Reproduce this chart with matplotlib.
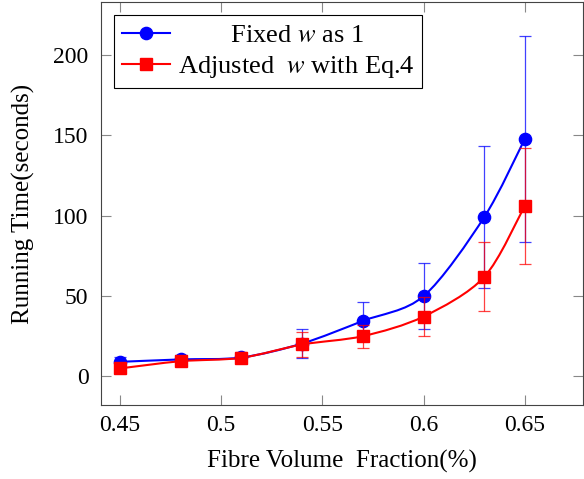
import numpy as np
import matplotlib.pyplot as plt
from matplotlib.path import Path
from matplotlib.patches import PathPatch

plt.rcParams["font.family"] = ["Liberation Serif", "DejaVu Serif"]
plt.rcParams["mathtext.fontset"] = "stix"

# data
frac = [0.45, 0.48, 0.51, 0.54, 0.57, 0.60, 0.63, 0.65]
fixed_w = [8.9, 10.4, 11.6, 20.3, 34.4, 49.8, 99.1, 147.7]
fixed_err = [3.0, 2.5, 3.0, 9.0, 11.5, 20.5, 44.0, 64.0]
adj_w = [4.8, 9.3, 11.4, 19.7, 24.9, 37.1, 61.8, 106.0]
adj_err = [2.5, 2.0, 3.5, 8.0, 7.2, 12.4, 21.5, 36.0]

xticks = [0.45, 0.5, 0.55, 0.6, 0.65]
xticklabels = ["0.45", "0.5", "0.55", "0.6", "0.65"]
yticks = [0, 50, 100, 150, 200]


def smooth_path(x, y, k=0.15):
    # cubic bezier through the points, like tikz "smooth"
    pts = np.column_stack([np.asarray(x, float), np.asarray(y, float)])
    n = len(pts)
    tang = np.zeros_like(pts)
    for i in range(n):
        a = pts[max(i - 1, 0)]
        b = pts[min(i + 1, n - 1)]
        tang[i] = (b - a) * k
    verts = [pts[0]]
    codes = [Path.MOVETO]
    for i in range(n - 1):
        verts += [pts[i] + tang[i], pts[i + 1] - tang[i + 1], pts[i + 1]]
        codes += [Path.CURVE4] * 3
    return Path(verts, codes)


fig = plt.figure(figsize=(5.84, 4.79), dpi=100)
ax = fig.add_axes([0.173, 0.1545, 0.825, 0.841])

for ys, err, col, mk, lab in [
    (fixed_w, fixed_err, "blue", "o", "        Fixed $w$ as 1"),
    (adj_w, adj_err, "red", "s", "Adjusted  $w$ with Eq.4"),
]:
    ax.add_patch(PathPatch(smooth_path(frac, ys), fill=False, edgecolor=col, lw=1.5))
    ax.errorbar(frac, ys, yerr=err, fmt="none", ecolor=col, elinewidth=0.9,
                capsize=4.5, capthick=0.9, alpha=0.75)
    ax.plot(frac, ys, ls="none", marker=mk, ms=8.8, color=col)
    ax.plot([], [], color=col, marker=mk, ms=8.8, lw=1.5, label=lab)

ax.set_xlim(0.4406, 0.6787)
ax.set_ylim(-18, 233)
ax.set_xticks(xticks)
ax.set_xticklabels(xticklabels)
ax.set_yticks(yticks)
ax.tick_params(direction="in", length=7.5, color="#888888", labelsize=17,
               top=True, right=True)
ax.tick_params(axis="x", pad=7)
ax.tick_params(axis="y", pad=9)
for s in ax.spines.values():
    s.set_color("#444444")
ax.set_xlabel("Fibre Volume  Fraction(%)", fontsize=18, labelpad=10)
ax.set_ylabel("Running Time(seconds)", fontsize=18, labelpad=13)

leg = ax.legend(loc="upper left", fontsize=19, frameon=True, fancybox=False,
                edgecolor="black", framealpha=1, handlelength=1.8,
                borderaxespad=0.5, borderpad=0.3, labelspacing=0.28,
                handletextpad=0.3)
leg.get_frame().set_linewidth(0.8)

fig.savefig("out.png", dpi=100)
